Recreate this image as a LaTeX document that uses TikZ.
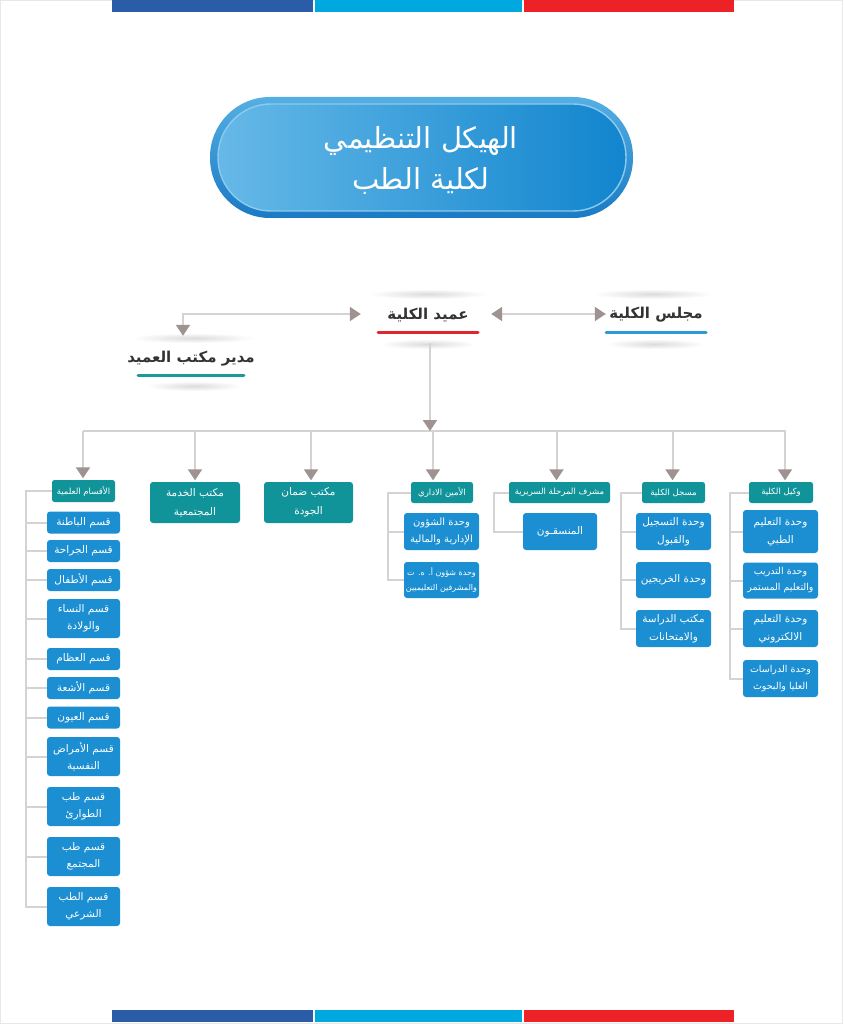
\documentclass[tikz,border=0pt]{standalone}
\usepackage{fontspec}
\usetikzlibrary{arrows.meta}
\TeXXeTstate=1
\newfontfamily\arabicfont[Script=Arabic]{DejaVu Sans}
\newcommand{\AR}[1]{\beginR #1\endR}
\definecolor{tealc}{HTML}{11939A}
\definecolor{bluec}{HTML}{1C8FD2}
\definecolor{linec}{HTML}{D6D2D2}
\definecolor{arrowc}{HTML}{9E9390}
\definecolor{barA}{HTML}{2A5CA8}
\definecolor{barB}{HTML}{00A8E0}
\definecolor{barC}{HTML}{EC2227}
\definecolor{pilltop}{HTML}{55AFE3}
\definecolor{pillbot}{HTML}{1A7AC4}
\definecolor{pilllight}{HTML}{66B9E7}
\definecolor{pilldark}{HTML}{1185CE}
\definecolor{ringc}{HTML}{8CCBEE}
\definecolor{txtdark}{HTML}{333333}
\definecolor{ulblue}{HTML}{2B9AD6}
\definecolor{ulred}{HTML}{E0262B}
\definecolor{ulteal}{HTML}{1A9A9A}
\begin{document}
\begin{tikzpicture}[x=1pt,y=-1pt,
  tipA/.tip={Triangle[length=11pt,width=14pt,color=arrowc]},
  conn/.style={draw=linec, line width=2pt},
  br/.style={draw=linec, line width=2pt},
  hdr/.style={fill=tealc, text=white, rounded corners=2.5pt, inner sep=0pt, align=center,
    font=\arabicfont\fontsize{8.5}{12}\selectfont},
  sub/.style={fill=bluec, text=white, rounded corners=3pt, inner sep=0pt, align=center,
    minimum width=75pt, font=\arabicfont\fontsize{10.5}{18}\selectfont},
  qsm/.style={sub, minimum width=73pt, font=\arabicfont\fontsize{10.5}{17}\selectfont},
  office/.style={fill=tealc, text=white, rounded corners=3pt, inner sep=0pt, align=center,
    minimum height=41pt, font=\arabicfont\fontsize{10.5}{19}\selectfont},
  topnode/.style={inner sep=0pt, minimum width=102pt, minimum height=24pt, text=txtdark,
    font=\arabicfont\bfseries\fontsize{15}{18}\selectfont},
  ul/.style={line width=3pt, line cap=round},
  shadowe/.style={inner color=gray!28, outer color=white},
  ttl/.style={text=white, align=center, font=\arabicfont\fontsize{29}{41}\selectfont}
]
\useasboundingbox (0,0) rectangle (843,1024);
\fill[white] (0,0) rectangle (843,1024);
\draw[gray!18, line width=1pt] (0.5,0.5) rectangle (842.5,1023.5);
% colour bars
\fill[barA] (112,0) rectangle (313,12);
\fill[barB] (315,0) rectangle (522,12);
\fill[barC] (524,0) rectangle (734,12);
\fill[barA] (112,1010) rectangle (313,1022);
\fill[barB] (315,1010) rectangle (522,1022);
\fill[barC] (524,1010) rectangle (734,1022);
% title pill
\shade[top color=pilltop, bottom color=pillbot, rounded corners=60pt] (210,97) rectangle (633,218);
\shade[left color=pilllight, right color=pilldark, rounded corners=53pt] (218,104) rectangle (626,211);
\draw[ringc, line width=1.4pt, rounded corners=53pt] (218,104) rectangle (626,211);
\node[ttl] (title) at (421,160) {\AR{الهيكل التنظيمي}\\\AR{لكلية الطب}};
% soft shadows of top nodes
\shade[shadowe] (428,294) ellipse (60 and 5);
\shade[shadowe] (428,344) ellipse (48 and 5);
\shade[shadowe] (653,294) ellipse (60 and 5);
\shade[shadowe] (655,344) ellipse (50 and 5);
\shade[shadowe] (193,338) ellipse (62 and 5);
\shade[shadowe] (194,386) ellipse (48 and 5);
% top nodes
\node[topnode] (majlis) at (656,315) {\AR{مجلس الكلية}};
\node[topnode] (dean) at (428,315) {\AR{عميد الكلية}};
\node[topnode, minimum width=108pt] (mudir) at (191,359) {\AR{مدير مكتب العميد}};
\draw[ul, ulblue] (606,332) -- (706,332);
\draw[ul, ulred] (378,332) -- (478,332);
\draw[ul, ulteal] (138,375) -- (244,375);
% top connectors
\draw[conn, tipA-tipA] ([xshift=12pt,yshift=1pt]dean.east) -- ([xshift=1pt,yshift=1pt]majlis.west);
\draw[conn, tipA-tipA] ([xshift=-16pt,yshift=1pt]dean.west) -| ([xshift=-8pt,yshift=11pt]mudir.north);
% bus
\coordinate (busL) at (83,431);
\coordinate (busC) at (430,431);
\coordinate (busR) at (786,431);
\draw[conn] (busL) -- (busR);
\draw[conn, -tipA] ([yshift=-16pt]dean.south -| busC) -- (busC);
% headers
\node[hdr, minimum width=64pt, minimum height=21pt] (wakil) at (781,492.5) {\AR{وكيل الكلية}};
\node[hdr, minimum width=63pt, minimum height=21pt] (musajjil) at (673.5,492.5) {\AR{مسجل الكلية}};
\node[hdr, minimum width=101pt, minimum height=21pt] (mushrif) at (559.5,492.5) {\AR{مشرف المرحلة السريرية}};
\node[hdr, minimum width=62pt, minimum height=21pt] (amin) at (442,492.5) {\AR{الأمين الاداري}};
\node[office, minimum width=89pt] (daman) at (308.5,502.5) {\AR{مكتب ضمان}\\\AR{الجودة}};
\node[office, minimum width=90pt] (khidma) at (195,502.5) {\AR{مكتب الخدمة}\\\AR{المجتمعية}};
\node[hdr, minimum width=63pt, minimum height=22pt] (aqsam) at (83.5,491) {\AR{الأقسام العلمية}};
% drops
\foreach \h/\dx in {wakil/4pt, musajjil/-1pt, mushrif/-3pt, amin/-9pt, daman/2.5pt, khidma/0pt, aqsam/-0.5pt}
  \draw[conn, -tipA, shorten >=1.5pt] ([xshift=\dx]\h.north |- busL) -- ([xshift=\dx]\h.north);
% column: wakil
\node[sub, minimum height=43pt] (v1) at (780.5,531.5) {\AR{وحدة التعليم}\\\AR{الطبي}};
\node[sub, minimum height=36pt, font=\arabicfont\fontsize{9.5}{16}\selectfont] (v2) at (780.5,580.5) {\AR{وحدة التدريب}\\\AR{والتعليم المستمر}};
\node[sub, minimum height=37pt] (v3) at (780.5,628.5) {\AR{وحدة التعليم}\\\AR{الالكتروني}};
\node[sub, minimum height=37pt, font=\arabicfont\fontsize{9.5}{17}\selectfont] (v4) at (780.5,678.5) {\AR{وحدة الدراسات}\\\AR{العليا والبحوث}};
\coordinate (sp7) at (730,0);
\draw[br] (wakil.west) -- (wakil.west -| sp7) -- (v4.west -| sp7) -- (v4.west);
\foreach \b in {v1,v2,v3} \draw[br] (\b.west -| sp7) -- (\b.west);
% column: musajjil
\node[sub, minimum height=37pt] (m1) at (673.5,531.5) {\AR{وحدة التسجيل}\\\AR{والقبول}};
\node[sub, minimum height=36pt] (m2) at (673.5,580) {\AR{وحدة الخريجين}};
\node[sub, minimum height=37pt] (m3) at (673.5,628.5) {\AR{مكتب الدراسة}\\\AR{والامتحانات}};
\coordinate (sp6) at (621,0);
\draw[br] (musajjil.west) -- (musajjil.west -| sp6) -- (m3.west -| sp6) -- (m3.west);
\foreach \b in {m1,m2} \draw[br] (\b.west -| sp6) -- (\b.west);
% column: mushrif
\node[sub, minimum width=74pt, minimum height=37pt] (mn) at (560,531.5) {\AR{المنسقـون}};
\coordinate (sp5) at (494,0);
\draw[br] (mushrif.west) -- (mushrif.west -| sp5) -- (mn.west -| sp5) -- (mn.west);
% column: amin
\node[sub, minimum height=37pt, font=\arabicfont\fontsize{10}{17}\selectfont] (a1) at (441.5,531.5) {\AR{وحدة الشؤون}\\\AR{الإدارية والمالية}};
\node[sub, minimum height=36pt, font=\arabicfont\fontsize{8}{15}\selectfont] (a2) at (441.5,580) {\AR{وحدة شؤون أ. ه. ت}\\\AR{والمشرفين التعليميين}};
\coordinate (sp4) at (388,0);
\draw[br] (amin.west) -- (amin.west -| sp4) -- (a2.west -| sp4) -- (a2.west);
\draw[br] (a1.west -| sp4) -- (a1.west);
% column: aqsam
\node[qsm, minimum height=22pt] (q1) at (83.5,522.5) {\AR{قسم الباطنة}};
\node[qsm, minimum height=22pt] (q2) at (83.5,551) {\AR{قسم الجراحة}};
\node[qsm, minimum height=22pt] (q3) at (83.5,580) {\AR{قسم الأطفال}};
\node[qsm, minimum height=39pt] (q4) at (83.5,618.5) {\AR{قسم النساء}\\\AR{والولادة}};
\node[qsm, minimum height=22pt] (q5) at (83.5,659) {\AR{قسم العظام}};
\node[qsm, minimum height=22pt] (q6) at (83.5,688) {\AR{قسم الأشعة}};
\node[qsm, minimum height=22pt] (q7) at (83.5,717.5) {\AR{قسم العيون}};
\node[qsm, minimum height=39pt] (q8) at (83.5,756.5) {\AR{قسم الأمراض}\\\AR{النفسية}};
\node[qsm, minimum height=39pt] (q9) at (83.5,806.5) {\AR{قسم طب}\\\AR{الطوارئ}};
\node[qsm, minimum height=39pt] (q10) at (83.5,856.5) {\AR{قسم طب}\\\AR{المجتمع}};
\node[qsm, minimum height=39pt] (q11) at (83.5,906.5) {\AR{قسم الطب}\\\AR{الشرعي}};
\coordinate (sp1) at (26,0);
\draw[br] (aqsam.west) -- (aqsam.west -| sp1) -- (q11.west -| sp1) -- (q11.west);
\foreach \b in {q1,q2,q3,q4,q5,q6,q7,q8,q9,q10} \draw[br] (\b.west -| sp1) -- (\b.west);
\end{tikzpicture}
\end{document}
